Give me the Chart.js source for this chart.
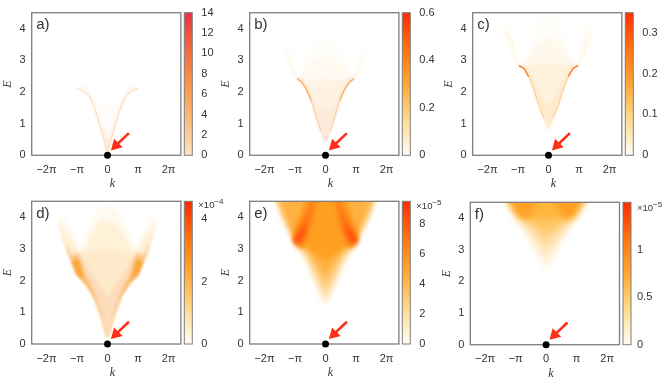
<!DOCTYPE html>
<html>
<head>
<meta charset="utf-8">
<title>Spectral functions</title>
<script src="https://cdn.jsdelivr.net/npm/chart.js@4"></script>
<style>
  html, body { margin: 0; padding: 0; background: #fff; overflow: hidden; }
  #page { position: relative; width: 668px; height: 379px; filter: blur(0.35px); }
  canvas { position: absolute; }
</style>
</head>
<body>
<div id="page"></div>
<script>
// axis ticks shared by every panel
var kTicks = [-2 * Math.PI, -Math.PI, 0, Math.PI, 2 * Math.PI];
var kTickLabels = ['\u22122\u03c0', '\u2212\u03c0', '0', '\u03c0', '2\u03c0'];
var eTicks = [0, 1, 2, 3, 4];

// black dot and red arrow
var dotK = [0];
var dotE = [0];
var arrowK = [2.2, 0.86];
var arrowE = [0.7, 0.31];

// a) k >= 0 half, the spectra are mirror symmetric
var aK = [0, 0.3, 0.5, 1, 1.34, 1.85, 2.54, 3.2];
var aRidge = [0, 0.43, 0.65, 1.15, 1.48, 1.85, 2.03, 2.11];
var aUp1 = [1.6, 1.6, 1.6, 1.65, 1.75, 2.05, 2.22, 2.2];
var aUp2 = [0.8, 0.85, 0.95, 1.35, 1.65, 1.97, 2.12, 2.16];
var aUp3 = [0.5, 0.58, 0.75, 1.2, 1.52, 1.88, 2.05, 2.12];

// b)
var bK = [0, 0.45, 0.96, 1.48, 2, 2.5, 2.92, 3.5, 3.85, 4.3];
var bLow = [0.41, 0.74, 1.22, 1.74, 2.1, 2.32, 2.41, 2.72, 2.9, 3.43];
var bUp1 = [3.65, 3.65, 3.6, 3.45, 3.1, 2.72, 2.43, 3.3, 3.45, 3.47];
var bUp2 = [3.1, 3.08, 3.0, 2.9, 2.75, 2.55, 2.42, 2.95, 3.1, 3.43];
var bUp3 = [2.4, 2.4, 2.38, 2.38, 2.4, 2.42, 2.42, 2.75, 2.9, 3.43];
var bUp4 = [1.5, 1.5, 1.6, 1.9, 2.2, 2.38, 2.42, 2.72, 2.9, 3.43];
var bUp5 = [0.52, 0.84, 1.32, 1.84, 2.2, 2.4, 2.47, 2.72, 2.9, 3.43];
var bRidgeK1 = [0.45, 0.96, 1.48, 2, 2.5, 2.92];
var bRidgeE1 = [0.74, 1.22, 1.74, 2.1, 2.32, 2.41];
var bRidgeK2 = [1.48, 2, 2.5, 2.92];
var bRidgeE2 = [1.74, 2.1, 2.32, 2.41];

// c)
var cK = [0, 0.48, 1, 1.5, 2.03, 2.54, 3.05, 3.35, 3.75, 4.67];
var cLow = [0.82, 1.17, 1.58, 2.06, 2.48, 2.74, 2.83, 3.03, 3.29, 3.95];
var cUp1 = [4.45, 4.42, 4.2, 3.85, 3.35, 3.0, 2.85, 3.35, 4.2, 4.22];
var cUp2 = [3.7, 3.65, 3.55, 3.4, 3.2, 2.95, 2.84, 3.2, 3.7, 3.97];
var cUp3 = [2.9, 2.9, 2.9, 2.85, 2.85, 2.85, 2.84, 3.1, 3.35, 3.95];
var cUp4 = [1.6, 1.75, 2.0, 2.35, 2.65, 2.82, 2.88, 3.05, 3.29, 3.95];
var cRidgeK1 = [0.48, 1, 1.5, 2.03, 2.54, 3.05];
var cRidgeE1 = [1.17, 1.58, 2.06, 2.48, 2.74, 2.83];
var cRidgeK2 = [2.03, 2.54, 3.05];
var cRidgeE2 = [2.48, 2.74, 2.83];

// d)
var dK = [0, 0.65, 1.34, 2.03, 2.5, 2.9, 3.12, 3.6, 4.4, 5.1];
var dLow = [0.2, 0.86, 1.44, 1.81, 2.0, 2.12, 2.18, 2.55, 3.15, 3.9];
var dUp1 = [4.35, 4.3, 4.1, 3.62, 3.3, 3.0, 3.15, 3.5, 3.95, 3.97];
var dUp2 = [3.9, 3.85, 3.65, 3.22, 3.0, 2.9, 3.0, 3.3, 3.6, 3.9];
var dUp3 = [3.0, 3.0, 2.95, 2.85, 2.8, 2.85, 2.9, 3.0, 3.3, 3.9];
var dUp4 = [1.5, 1.8, 2.1, 2.4, 2.7, 2.85, 2.85, 2.8, 3.15, 3.9];
var dUp5 = [0.25, 1.0, 1.62, 2.05, 2.4, 2.75, 2.85, 2.75, 3.15, 3.9];
var dUp6 = [0.2, 0.86, 1.46, 1.86, 2.1, 2.6, 2.68, 2.6, 3.15, 3.9];

// e)
var eK = [0, 0.5, 1, 1.5, 2, 2.5, 2.75, 3.3, 3.8, 4.4, 4.8, 5.3];
var eTop = [4.7, 4.7, 4.7, 4.7, 4.7, 4.7, 4.7, 4.7, 4.7, 4.7, 4.7, 4.7];
var eLow1 = [1.25, 1.45, 1.78, 2.15, 2.55, 2.78, 2.91, 3.24, 3.53, 3.91, 4.22, 4.62];
var eLow2 = [1.4, 1.68, 2.02, 2.38, 2.72, 2.92, 3.02, 3.32, 3.6, 3.98, 4.3, 4.7];
var eLow3 = [1.7, 1.95, 2.25, 2.58, 2.85, 3.02, 3.12, 3.42, 3.68, 4.08, 4.42, 4.7];
var eLow4 = [2.1, 2.3, 2.55, 2.8, 3.0, 3.1, 3.2, 3.5, 3.8, 4.2, 4.6, 4.7];
var eMidLow = [2.6, 2.7, 2.82, 2.95, 3.05, 3.08, 3.2, 3.55, 4.7, 4.7, 4.7, 4.7];
var eMidUp = [4.7, 4.7, 4.7, 4.7, 4.6, 4.25, 4.0, 3.55, 4.7, 4.7, 4.7, 4.7];
var eHotLow1 = [4.7, 4.7, 4.4, 3.75, 3.2, 3.05, 3.05, 3.25, 4.7, 4.7, 4.7, 4.7];
var eHotUp1 = [4.7, 4.7, 4.7, 4.7, 4.3, 3.95, 3.8, 3.35, 4.7, 4.7, 4.7, 4.7];
var eHotLow2 = [4.7, 4.7, 4.7, 4.1, 3.55, 3.2, 3.12, 3.28, 4.7, 4.7, 4.7, 4.7];
var eHotUp2 = [4.7, 4.7, 4.7, 4.35, 4.0, 3.72, 3.6, 3.3, 4.7, 4.7, 4.7, 4.7];
var eHotLow3 = [4.7, 4.7, 4.7, 4.4, 3.7, 3.3, 3.22, 3.28, 4.7, 4.7, 4.7, 4.7];
var eHotUp3 = [4.7, 4.7, 4.7, 4.4, 3.75, 3.6, 3.48, 3.28, 4.7, 4.7, 4.7, 4.7];

// f)
var fK = [0, 0.5, 1, 1.5, 2, 2.5, 3, 3.5, 4, 4.4];
var fTop = [4.7, 4.7, 4.7, 4.7, 4.7, 4.7, 4.7, 4.7, 4.7, 4.7];
var fLow1 = [2.35, 2.6, 2.9, 3.2, 3.45, 3.68, 3.93, 4.15, 4.38, 4.7];
var fLow2 = [2.7, 2.88, 3.12, 3.38, 3.6, 3.78, 4.0, 4.22, 4.45, 4.7];
var fLow3 = [3.1, 3.22, 3.42, 3.6, 3.76, 3.9, 4.08, 4.3, 4.55, 4.7];
var fLow4 = [3.5, 3.58, 3.7, 3.82, 3.92, 4.0, 4.16, 4.4, 4.7, 4.7];
var fLow5 = [3.95, 3.98, 4.0, 4.0, 4.02, 4.08, 4.25, 4.5, 4.7, 4.7];
var fLow6 = [4.7, 4.7, 4.55, 4.15, 4.0, 4.02, 4.15, 4.5, 4.7, 4.7];

// colorbar ticks and ranges
var aBarTicks = [0, 2, 4, 6, 8, 10, 12, 14];
var bBarTicks = [0, 0.2, 0.4, 0.6];
var cBarTicks = [0, 0.1, 0.2, 0.3];
var dBarTicks = [0, 2, 4];
var eBarTicks = [0, 2, 4, 6, 8];
var fBarTicks = [0, 0.5, 1];
var barMaxes = [14, 0.6, 0.349, 4.58, 9.48, 1.5];

var paleStops = ['#fde4c2', '#fdbb7a', '#fa9448', '#f3693e', '#e8333c'];
var hotStops = ['#fffdf6', '#ffdb8e', '#ffa733', '#ff7210', '#ff2a00'];

// one band = [lower edge, upper edge, colour], drawn back to front
var panels = [
  { label: 'a)', left: 31.7, top: 12.7, bottom: 155.3, barLeft: 184.3, k: aK, blur: 1, stops: paleStops,
    barTicks: aBarTicks, barMax: barMaxes[0], exp: '', expY: 0,
    bands: [[aRidge, aUp1, '#fffcf9'], [aRidge, aUp2, '#fef6ee'], [aRidge, aUp3, '#fdeadc']],
    ridges: [[aK, aRidge, '#fcd8b4', 1]] },
  { label: 'b)', left: 249.7, top: 12.7, bottom: 155.3, barLeft: 402.3, k: bK, blur: 1, stops: hotStops,
    barTicks: bBarTicks, barMax: barMaxes[1], exp: '', expY: 0,
    bands: [[bLow, bUp1, '#fffdf9'], [bLow, bUp2, '#fff9ef'], [bLow, bUp3, '#fef3e3'], [bLow, bUp4, '#fdebdc'], [bLow, bUp5, '#fcdfd0']],
    ridges: [[bRidgeK1, bRidgeE1, '#fdcc98', 1], [bRidgeK2, bRidgeE2, '#fdac58', 1.2]] },
  { label: 'c)', left: 472.7, top: 12.7, bottom: 155.3, barLeft: 625.3, k: cK, blur: 1, stops: hotStops,
    barTicks: cBarTicks, barMax: barMaxes[2], exp: '', expY: 0,
    bands: [[cLow, cUp1, '#fffdf8'], [cLow, cUp2, '#fff8ec'], [cLow, cUp3, '#fff2dd'], [cLow, cUp4, '#feeacc']],
    ridges: [[cRidgeK1, cRidgeE1, '#fdc88c', 1], [cRidgeK2, cRidgeE2, '#f7802c', 1.4]] },
  { label: 'd)', left: 31.7, top: 201.3, bottom: 344, barLeft: 184.3, k: dK, blur: 1.6, stops: hotStops,
    barTicks: dBarTicks, barMax: barMaxes[3], exp: '\u22124', expY: 6.5,
    bands: [[dLow, dUp1, '#fffaf0'], [dLow, dUp2, '#fff1d8'], [dLow, dUp3, '#feeaca'], [dLow, dUp4, '#fcdcba'], [dLow, dUp5, '#fcc27e'], [dLow, dUp6, '#fba53a']],
    ridges: [] },
  { label: 'e)', left: 249.7, top: 201.3, bottom: 344, barLeft: 402.3, k: eK, blur: 2.6, stops: hotStops,
    barTicks: eBarTicks, barMax: barMaxes[4], exp: '\u22125', expY: 8,
    bands: [[eLow1, eTop, '#fff3dc'], [eLow2, eTop, '#ffe0aa'], [eLow3, eTop, '#ffcb78'], [eLow4, eTop, '#ffb345'], [eMidLow, eMidUp, '#ffa020'],
      [eHotLow1, eHotUp1, '#ff8c1c'], [eHotLow2, eHotUp2, '#ff6c12'], [eHotLow3, eHotUp3, '#ff4a0c']],
    ridges: [] },
  { label: 'f)', left: 470.3, top: 202.3, bottom: 344.7, barLeft: 623, k: fK, blur: 3, stops: hotStops,
    barTicks: fBarTicks, barMax: barMaxes[5], exp: '\u22125', expY: 9,
    bands: [[fLow1, fTop, '#fff5e3'], [fLow2, fTop, '#ffe8c2'], [fLow3, fTop, '#ffd794'], [fLow4, fTop, '#ffc765'], [fLow5, fTop, '#ffb53c'], [fLow6, fTop, '#ff9f24']],
    ridges: [] }
];

var BAR_W = 8;
var FRAME = '#7d7d7d';
var TEXT = '#333';
var SANS = '"Liberation Sans", Arial, sans-serif';

function mirror(ks, es) {
  var pts = [];
  for (var i = ks.length - 1; i > 0; i--) pts.push({ x: -ks[i], y: es[i] });
  for (var j = 0; j < ks.length; j++) pts.push({ x: ks[j], y: es[j] });
  return pts;
}

function oneSide(ks, es, sign) {
  return ks.map(function (k, i) { return { x: sign * k, y: es[i] }; });
}

function addCanvas(left, top, w, h) {
  var c = document.createElement('canvas');
  c.width = w; c.height = h;
  c.style.left = left + 'px';
  c.style.top = top + 'px';
  c.style.width = w + 'px';
  c.style.height = h + 'px';
  document.getElementById('page').appendChild(c);
  return c;
}

// tick label overhang would push the chart area in, the frame position is fixed here
function noScalePadding(s) {
  s.paddingTop = 0;
  s.paddingBottom = 0;
  s.paddingLeft = 0;
  s.paddingRight = 0;
}

function heatDatasets(p) {
  var ds = [];
  var order = 200;
  p.bands.forEach(function (b) {
    ds.push({ data: mirror(p.k, b[1]), fill: '+1', backgroundColor: b[2], borderWidth: 0, pointRadius: 0, showLine: true, tension: 0.15, order: order });
    ds.push({ data: mirror(p.k, b[0]), fill: false, borderWidth: 0, pointRadius: 0, showLine: true, tension: 0.15, order: order });
    order--;
  });
  p.ridges.forEach(function (r) {
    [-1, 1].forEach(function (side) {
      ds.push({ sharp: true, data: oneSide(r[0], r[1], side), fill: false, borderColor: r[2], borderWidth: r[3], pointRadius: 0, showLine: true, tension: 0.25, order: order });
    });
    order--;
  });
  ds.push({ sharp: true, isDot: true, data: dotK.map(function (k, i) { return { x: k, y: dotE[i] }; }), showLine: false, clip: false,
    pointRadius: 3.5, pointBackgroundColor: '#000', pointBorderWidth: 0, order: 2 });
  ds.push({ sharp: true, data: arrowK.map(function (k, i) { return { x: k, y: arrowE[i] }; }), showLine: true, borderColor: '#ff2e17', borderWidth: 2.6,
    pointStyle: 'triangle', pointRadius: [0, 7], rotation: [0, 225], pointBackgroundColor: '#ff2e17', pointBorderWidth: 0, order: 1 });
  return ds;
}

function drawPanel(p) {
  var cLeft = Math.floor(p.left) - 31;
  var cTop = Math.floor(p.top) - 3;
  var cH = 184;
  var canvas = addCanvas(cLeft, cTop, 188, cH);
  var padTop = p.top - cTop;
  var plotH = p.bottom - p.top;
  var axisW = p.left - cLeft;

  var panelPlugin = {
    id: 'panelPlugin',
    beforeDatasetsDraw: function (chart) {
      chart.ctx.filter = 'blur(' + p.blur + 'px)';
    },
    beforeDatasetDraw: function (chart, args) {
      var d = chart.data.datasets[args.index];
      if (d.sharp) chart.ctx.filter = 'none';
      if (d.isDot) {
        // frame goes under the dot
        var a = chart.chartArea;
        chart.ctx.strokeStyle = FRAME;
        chart.ctx.lineWidth = 1.3;
        chart.ctx.strokeRect(a.left, a.top, a.right - a.left, a.bottom - a.top);
      }
    },
    afterDatasetsDraw: function (chart) {
      var a = chart.chartArea;
      chart.ctx.filter = 'none';
      chart.ctx.fillStyle = TEXT;
      chart.ctx.font = '15px ' + SANS;
      chart.ctx.textAlign = 'left';
      chart.ctx.textBaseline = 'alphabetic';
      chart.ctx.fillText(p.label, a.left + 4.5, a.top + 16.5);
    }
  };

  new Chart(canvas, {
    type: 'scatter',
    data: { datasets: heatDatasets(p) },
    plugins: [panelPlugin],
    options: {
      responsive: false,
      animation: false,
      layout: { autoPadding: false, padding: { top: padTop, right: 188 - axisW - 149.2, left: 0, bottom: 0 } },
      plugins: { legend: { display: false }, tooltip: { enabled: false } },
      scales: {
        x: {
          type: 'linear', min: -7.8, max: 7.55,
          grid: { display: false, drawTicks: false }, border: { display: false },
          afterBuildTicks: function (s) { s.ticks = kTicks.map(function (v) { return { value: v }; }); },
          afterFit: function (s) { s.height = cH - padTop - plotH; noScalePadding(s); },
          ticks: { color: TEXT, font: { family: SANS, size: 11 }, padding: 8, maxRotation: 0, autoSkip: false,
            callback: function (v, i) { return kTickLabels[i]; } },
          title: { display: true, text: '\u2003k', color: TEXT, padding: { top: 2, bottom: 2 },
            font: { family: '"Liberation Serif", serif', style: 'italic', size: 12 } }
        },
        y: {
          type: 'linear', min: 0, max: 4.5,
          grid: { display: false, drawTicks: false }, border: { display: false },
          afterBuildTicks: function (s) { s.ticks = eTicks.map(function (v) { return { value: v }; }); },
          afterFit: function (s) { s.width = axisW; noScalePadding(s); },
          ticks: { color: TEXT, font: { family: SANS, size: 11 }, padding: 6 },
          title: { display: true, text: 'E', color: TEXT, padding: { top: 1, bottom: 0 },
            font: { family: '"Liberation Serif", serif', style: 'italic', size: 12 } }
        }
      }
    }
  });
}

function drawColorbar(p) {
  var cLeft = Math.floor(p.barLeft) - 2;
  var cTop = Math.floor(p.top) - 9;
  var cW = 48;
  var cH = 165;
  var canvas = addCanvas(cLeft, cTop, cW, cH);
  var padTop = p.top - cTop;
  var padBottom = cH - (p.bottom - cTop);
  var padLeft = p.barLeft - cLeft;

  var barPlugin = {
    id: 'barPlugin',
    afterDraw: function (chart) {
      var a = chart.chartArea;
      var ctx = chart.ctx;
      ctx.save();
      ctx.strokeStyle = FRAME;
      ctx.lineWidth = 1;
      ctx.strokeRect(a.left, a.top, a.right - a.left, a.bottom - a.top);
      if (p.exp) {
        ctx.fillStyle = TEXT;
        ctx.textAlign = 'left';
        ctx.textBaseline = 'alphabetic';
        ctx.font = '9.5px ' + SANS;
        var base = a.top + p.expY;
        var tx = a.right + 6;
        ctx.fillText('\u00d710', tx, base);
        ctx.font = '8px ' + SANS;
        ctx.fillText(p.exp, tx + 16, base - 4);
      }
      ctx.restore();
    }
  };

  new Chart(canvas, {
    type: 'bar',
    data: {
      labels: [p.label],
      datasets: [{
        data: [[0, p.barMax]],
        barPercentage: 1,
        categoryPercentage: 1,
        backgroundColor: function (ctx) {
          var a = ctx.chart.chartArea;
          if (!a) return p.stops[0];
          var g = ctx.chart.ctx.createLinearGradient(0, a.bottom, 0, a.top);
          p.stops.forEach(function (c, i) { g.addColorStop(i / (p.stops.length - 1), c); });
          return g;
        }
      }]
    },
    plugins: [barPlugin],
    options: {
      responsive: false,
      animation: false,
      layout: { autoPadding: false, padding: { top: padTop, bottom: padBottom, left: padLeft, right: 0 } },
      plugins: { legend: { display: false }, tooltip: { enabled: false } },
      scales: {
        x: { display: false },
        y: {
          position: 'right', min: 0, max: p.barMax,
          grid: { display: false, drawTicks: false }, border: { display: false },
          afterBuildTicks: function (s) { s.ticks = p.barTicks.map(function (v) { return { value: v }; }); },
          afterFit: function (s) { s.width = cW - padLeft - BAR_W; noScalePadding(s); },
          ticks: { color: TEXT, font: { family: SANS, size: 11 }, padding: p.label === 'f)' ? 6 : 9,
            callback: function (v) { return String(v); } }
        }
      }
    }
  });
}

panels.forEach(function (p) {
  drawPanel(p);
  drawColorbar(p);
});
</script>
</body>
</html>
